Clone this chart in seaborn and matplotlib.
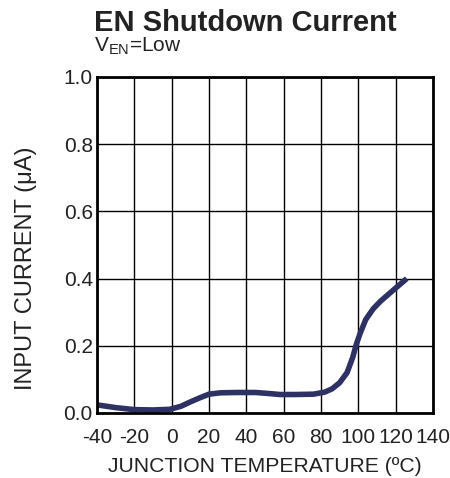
import matplotlib
matplotlib.use("Agg")
import matplotlib.pyplot as plt
import pandas as pd
import seaborn as sns

# temperatura di giunzione (°C) e corrente di ingresso (uA)
temp = [-41, -30, -20, -10, -1, 5, 10, 15, 20, 26, 35, 45, 52, 58, 66, 76, 82, 86, 90, 94, 97, 99, 101, 104, 108, 112, 118, 126]
current = [0.025, 0.016, 0.010, 0.009, 0.011, 0.02, 0.033, 0.045, 0.056, 0.060, 0.061, 0.061, 0.058, 0.055, 0.055, 0.056, 0.062, 0.072, 0.09, 0.12, 0.165, 0.205, 0.237, 0.278, 0.31, 0.333, 0.362, 0.40]
xticks = [-40, -20, 0, 20, 40, 60, 80, 100, 120, 140]
yticks = [0.0, 0.2, 0.4, 0.6, 0.8, 1.0]

df = pd.DataFrame({'T': temp, 'I': current})

sns.set_style('white')
plt.rcParams['font.family'] = ['Liberation Sans', 'DejaVu Sans']

fig = plt.figure(figsize=(4.5, 4.78), dpi=100)
ax = fig.add_axes([0.2156, 0.136, 0.7464, 0.703])

sns.lineplot(data=df, x='T', y='I', ax=ax, color='#2e3163', linewidth=4.0, solid_capstyle='butt')

ax.set_xlim(-40, 140)
ax.set_ylim(0, 1.0)
ax.set_xticks(xticks)
ax.set_yticks(yticks)
ax.set_xticklabels([str(t) for t in xticks])
ax.set_yticklabels([f'{v:.1f}' for v in yticks])
ax.grid(True, color='black', linewidth=1.0)
ax.set_axisbelow(True)
for s in ax.spines.values():
    s.set_color('black')
    s.set_linewidth(2)
ax.tick_params(axis='both', labelsize=15, length=0, colors='#222222')
ax.tick_params(axis='x', pad=11)
ax.tick_params(axis='y', pad=3)

ax.set_xlabel('JUNCTION TEMPERATURE (ºC)', fontsize=15.2, labelpad=7, color='#222222')
ax.set_ylabel('INPUT CURRENT (μA)', fontsize=17, color='#222222')
ax.yaxis.set_label_coords(-0.18, 0.43)

fig.text(0.209, 0.935, 'EN Shutdown Current', fontsize=21, fontweight='bold', color='#222222')
fig.text(0.209, 0.893, r'V$_{\mathregular{EN}}$=Low', fontsize=15, color='#222222')

plt.savefig('out.png', dpi=100)
